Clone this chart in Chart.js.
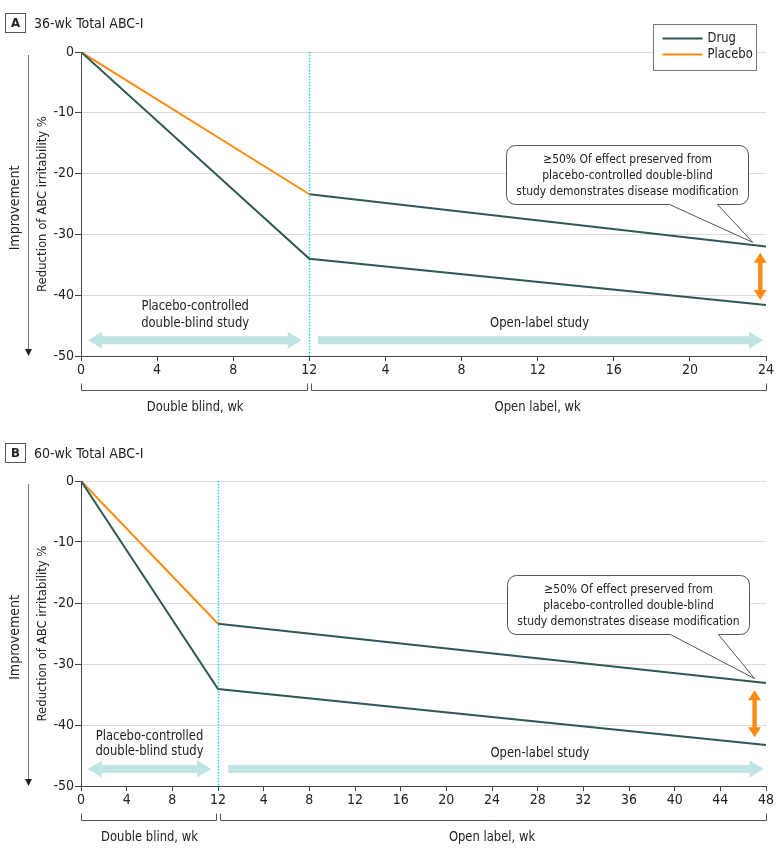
<!DOCTYPE html>
<html>
<head>
<meta charset="UTF-8" />
<title>ABC-I disease modification</title>
<script src="https://cdn.jsdelivr.net/npm/chart.js"></script>
<style>
  body { margin: 0; background: #fff; color: #222; font-family: 'DejaVu Sans Condensed', 'Liberation Sans', sans-serif; }
  .wrap { position: relative; width: 780px; height: 854px; }
  .panel { position: absolute; left: 0; width: 780px; height: 427px; }
  .head { position: absolute; left: 5px; font-size: 14px; display: flex; align-items: center; z-index: 2; }
  .head b { display: inline-block; width: 19px; height: 18px; line-height: 18px; border: 1px solid #555; text-align: center; font-size: 13px; margin-right: 8px; }
</style>
</head>
<body>
<div class="wrap">
  <div class="head" style="top:13px"><b>A</b>36-wk Total ABC-I</div>
  <canvas id="chartA" class="panel" style="top:0" width="780" height="427"></canvas>
  <div class="head" style="top:443px"><b>B</b>60-wk Total ABC-I</div>
  <canvas id="chartB" class="panel" style="top:427px" width="780" height="427"></canvas>
</div>
<script>
const FONT = "'DejaVu Sans Condensed', 'Liberation Sans', sans-serif";
const DRUG_COLOR = '#2d5955';
const PLACEBO_COLOR = '#ff8a14';
const TEAL = '#bfe5e3';

// A: 12 wk double blind + 24 wk open label
const weeksA = [0, 12, 36];
const drugA = [0, -34, -41.6];
const placeboA = [0, -23.4];
const switchedA = [-23.4, -32];   // placebo group on drug in open label

// B: 12 wk double blind + 48 wk open label
const weeksB = [0, 12, 60];
const drugB = [0, -34.1, -43.3];
const placeboB = [0, -23.4];
const switchedB = [-23.4, -33.1];

const yTicks = [0, -10, -20, -30, -40, -50];
const blindWeeks = 12;
const noteLines = ['\u226550% Of effect preserved from', 'placebo-controlled double-blind', 'study demonstrates disease modification'];

Chart.defaults.font.family = FONT;
Chart.defaults.font.size = 13;
Chart.defaults.color = '#222';

function pts(xs, ys) {
  return ys.map((y, i) => ({ x: xs[i], y: y }));
}

// condensed text, the original face is narrower than DejaVu
function text(ctx, s, x, y) {
  ctx.save();
  ctx.translate(x, y);
  ctx.scale(0.92, 1);
  ctx.fillText(s, 0, 0);
  ctx.restore();
}

function hArrow(ctx, x1, x2, y, leftHead) {
  const bh = 4, hh = 8.5, hl = 14;
  ctx.beginPath();
  if (leftHead) {
    ctx.moveTo(x1, y); ctx.lineTo(x1 + hl, y - hh); ctx.lineTo(x1 + hl, y - bh);
  } else {
    ctx.moveTo(x1, y - bh);
  }
  ctx.lineTo(x2 - hl, y - bh); ctx.lineTo(x2 - hl, y - hh); ctx.lineTo(x2, y);
  ctx.lineTo(x2 - hl, y + hh); ctx.lineTo(x2 - hl, y + bh);
  if (leftHead) {
    ctx.lineTo(x1 + hl, y + bh); ctx.lineTo(x1 + hl, y + hh);
  } else {
    ctx.lineTo(x1, y + bh);
  }
  ctx.closePath();
  ctx.fill();
}

function vArrow(ctx, x, y1, y2) {
  const bw = 2.2, hw = 6.5, hl = 10;
  ctx.beginPath();
  ctx.moveTo(x, y1); ctx.lineTo(x + hw, y1 + hl); ctx.lineTo(x + bw, y1 + hl);
  ctx.lineTo(x + bw, y2 - hl); ctx.lineTo(x + hw, y2 - hl); ctx.lineTo(x, y2);
  ctx.lineTo(x - hw, y2 - hl); ctx.lineTo(x - bw, y2 - hl); ctx.lineTo(x - bw, y1 + hl);
  ctx.lineTo(x - hw, y1 + hl);
  ctx.closePath();
  ctx.fill();
}

const overlay = {
  id: 'overlay',
  beforeDatasetsDraw(chart, args, o) {
    const { ctx, chartArea: a, scales: { x, y } } = chart;
    ctx.save();
    // end of double blind
    const xb = Math.round(x.getPixelForValue(blindWeeks)) + 0.5;
    ctx.strokeStyle = '#1ad6f0';
    ctx.lineWidth = 1.5;
    ctx.setLineDash([1.5, 1.5]);
    ctx.beginPath(); ctx.moveTo(xb, a.top); ctx.lineTo(xb, a.bottom); ctx.stroke();
    ctx.setLineDash([]);
    // study phase arrows
    ctx.fillStyle = TEAL;
    hArrow(ctx, x.getPixelForValue(o.blindArrow[0]), x.getPixelForValue(o.blindArrow[1]), y.getPixelForValue(o.arrowY), true);
    hArrow(ctx, x.getPixelForValue(o.openArrow[0]), x.getPixelForValue(o.openArrow[1]), y.getPixelForValue(o.arrowY), false);
    ctx.fillStyle = '#222';
    ctx.font = '14px ' + FONT;
    ctx.textAlign = 'center';
    ctx.textBaseline = 'middle';
    text(ctx, 'Placebo-controlled', x.getPixelForValue(o.blindText[0]), y.getPixelForValue(o.blindText[1]));
    text(ctx, 'double-blind study', x.getPixelForValue(o.blindText[0]), y.getPixelForValue(o.blindText[2]));
    text(ctx, 'Open-label study', x.getPixelForValue(o.openText[0]), y.getPixelForValue(o.openText[1]));
    ctx.restore();
  },
  afterDatasetsDraw(chart, args, o) {
    const { ctx, chartArea: a, scales: { x, y } } = chart;
    ctx.save();
    // effect gap arrow
    ctx.fillStyle = PLACEBO_COLOR;
    vArrow(ctx, x.getPixelForValue(o.gap[0]), y.getPixelForValue(o.gap[1]), y.getPixelForValue(o.gap[2]));

    // callout
    const cx = x.getPixelForValue(o.note[0]), cy = y.getPixelForValue(o.note[1]);
    const w = 242, h = 59, r = 9;
    const L = Math.round(cx - w / 2) + 0.5, R = L + w, T = Math.round(cy - h / 2) + 0.5, B = T + h;
    const tx = x.getPixelForValue(o.noteTip[0]), ty = y.getPixelForValue(o.noteTip[1]);
    ctx.beginPath();
    ctx.moveTo(L + r, T);
    ctx.lineTo(R - r, T); ctx.arcTo(R, T, R, T + r, r);
    ctx.lineTo(R, B - r); ctx.arcTo(R, B, R - r, B, r);
    ctx.lineTo(L + w / 2 + 90, B); ctx.lineTo(tx, ty); ctx.lineTo(L + w / 2 + 42, B);
    ctx.lineTo(L + r, B); ctx.arcTo(L, B, L, B - r, r);
    ctx.lineTo(L, T + r); ctx.arcTo(L, T, L + r, T, r);
    ctx.closePath();
    ctx.fillStyle = '#fff';
    ctx.fill();
    ctx.strokeStyle = '#555';
    ctx.lineWidth = 1;
    ctx.stroke();
    ctx.fillStyle = '#222';
    ctx.font = '13px ' + FONT;
    ctx.textAlign = 'center';
    ctx.textBaseline = 'middle';
    noteLines.forEach((t, i) => text(ctx, t, L + w / 2, T + 14 + i * 16));

    // legend (panel A only)
    ctx.font = '14px ' + FONT;
    if (o.legend) {
      const lx = a.right - 112.5, ly = a.top - 27.5;
      ctx.fillStyle = '#fff';
      ctx.fillRect(lx, ly, 103, 46);
      ctx.strokeStyle = '#777';
      ctx.strokeRect(lx, ly, 103, 46);
      const items = chart.data.datasets.filter(d => d.inLegend);
      items.forEach((d, i) => {
        const yy = ly + 14 + i * 16;
        ctx.strokeStyle = d.borderColor;
        ctx.lineWidth = 2;
        ctx.beginPath(); ctx.moveTo(lx + 9, yy); ctx.lineTo(lx + 49, yy); ctx.stroke();
        ctx.fillStyle = '#222';
        ctx.textAlign = 'left';
        text(ctx, d.label, lx + 54, yy);
      });
    }

    // phase brackets under the x axis
    const xb = x.getPixelForValue(blindWeeks);
    const by = Math.round(a.bottom + 34) + 0.5;
    ctx.strokeStyle = '#555';
    ctx.lineWidth = 1;
    [[a.left, xb - 2], [xb + 2, a.right]].forEach(([p, q]) => {
      ctx.beginPath();
      ctx.moveTo(Math.round(p) + 0.5, by - 7); ctx.lineTo(Math.round(p) + 0.5, by);
      ctx.lineTo(Math.round(q) + 0.5, by); ctx.lineTo(Math.round(q) + 0.5, by - 7);
      ctx.stroke();
    });
    ctx.fillStyle = '#222';
    ctx.textAlign = 'center';
    text(ctx, 'Double blind, wk', (a.left + xb) / 2, a.bottom + 51);
    text(ctx, 'Open label, wk', (xb + a.right) / 2, a.bottom + 51);

    // improvement direction
    ctx.strokeStyle = '#777';
    ctx.beginPath(); ctx.moveTo(28.5, a.top + 3); ctx.lineTo(28.5, a.bottom - 6); ctx.stroke();
    ctx.fillStyle = '#222';
    ctx.beginPath(); ctx.moveTo(25, a.bottom - 7); ctx.lineTo(32, a.bottom - 7); ctx.lineTo(28.5, a.bottom); ctx.closePath(); ctx.fill();
    ctx.translate(15, (a.top + a.bottom) / 2 + 4);
    ctx.rotate(-Math.PI / 2);
    ctx.fillText('Improvement', 0, 0);
    ctx.restore();
  }
};

function makeChart(id, weeks, drug, placebo, switched, o) {
  return new Chart(document.getElementById(id), {
    type: 'line',
    data: {
      datasets: [
        { label: 'Drug', data: pts(weeks, drug), borderColor: DRUG_COLOR, inLegend: true },
        { label: 'Placebo', data: pts(weeks, placebo), borderColor: PLACEBO_COLOR, inLegend: true },
        { label: 'Placebo to drug', data: pts(weeks.slice(1), switched), borderColor: DRUG_COLOR }
      ]
    },
    options: {
      responsive: false,
      animation: false,
      elements: { point: { radius: 0 }, line: { borderWidth: 2, tension: 0 } },
      layout: { padding: { top: o.top, right: 14, bottom: o.bottom, left: 0 } },
      plugins: { legend: { display: false }, tooltip: { enabled: false }, overlay: o },
      scales: {
        x: {
          type: 'linear', min: 0, max: o.maxWeek,
          afterFit: s => { s.height = 22; },
          border: { color: '#444' },
          grid: { drawOnChartArea: false, color: '#444', tickLength: 5 },
          ticks: { stepSize: 4, autoSkip: false, maxRotation: 0, padding: 1, font: { size: 14 },
                   callback: v => (v <= blindWeeks ? v : v - blindWeeks) }
        },
        y: {
          min: -50, max: 0,
          afterFit: s => { s.width = 81; },
          afterBuildTicks: s => { s.ticks = yTicks.map(v => ({ value: v })); },
          border: { color: '#444' },
          grid: { color: '#dcdcdc', tickColor: '#444', tickLength: 6 },
          ticks: { padding: 1, font: { size: 14 } },
          title: { display: true, text: 'Reduction of ABC irritability %', font: { size: 13 }, padding: { top: 35, bottom: 0 } }
        }
      }
    },
    plugins: [overlay]
  });
}

makeChart('chartA', weeksA, drugA, placeboA, switchedA, {
  top: 52, bottom: 49, maxWeek: 36, legend: true,
  arrowY: -47.4, blindArrow: [0.37, 11.6], openArrow: [12.45, 35.85],
  blindText: [6, -41.9, -44.6], openText: [24.1, -44.7],
  gap: [35.7, -33, -40.8],
  note: [28.7, -20.1], noteTip: [35.3, -31.3]
});

makeChart('chartB', weeksB, drugB, placeboB, switchedB, {
  top: 54, bottom: 46, maxWeek: 60, legend: false,
  arrowY: -47.2, blindArrow: [0.6, 11.4], openArrow: [12.9, 59.8],
  blindText: [6, -41.8, -44.4], openText: [40.2, -44.6],
  gap: [59.0, -34.3, -42],
  note: [47.9, -20.2], noteTip: [59.0, -32.4]
});
</script>
</body>
</html>
